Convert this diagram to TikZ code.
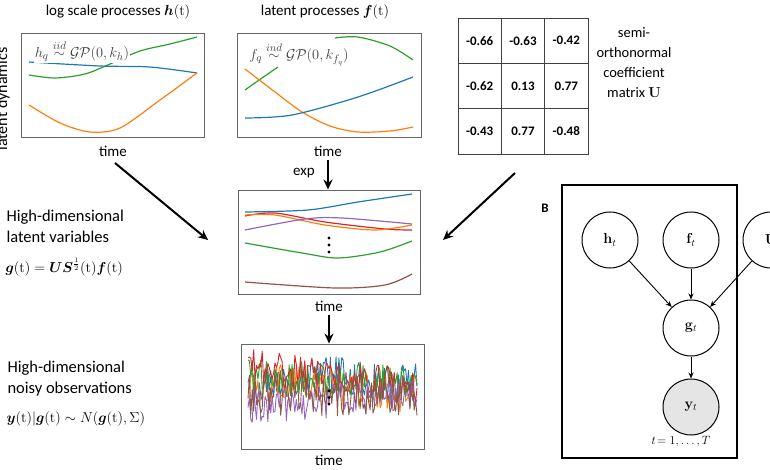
\documentclass[tikz,border=0pt]{standalone}
\usepackage{amsmath}
\usepackage{bm}
\usepackage[no-math]{fontspec}
\setmainfont{Carlito}
\usetikzlibrary{arrows.meta,positioning}
\definecolor{tabblue}{RGB}{31,119,180}
\definecolor{taborange}{RGB}{255,127,14}
\definecolor{tabgreen}{RGB}{44,160,44}
\definecolor{tabred}{RGB}{214,39,40}
\definecolor{tabpurple}{RGB}{148,103,189}
\definecolor{tabbrown}{RGB}{140,86,75}

\begin{document}
\begin{tikzpicture}[x=1pt,y=-1pt,
	panel/.style={draw=black!60, line width=0.9pt, inner sep=0pt},
	title/.style={font=\fontsize{15}{18}\selectfont},
	side/.style={font=\fontsize{16.5}{21}\selectfont, align=left, anchor=west},
	formula/.style={font=\fontsize{14.5}{17}\selectfont, anchor=west},
	gplabel/.style={fill=white, text=black!75, inner sep=1pt, font=\fontsize{15}{17}\selectfont},
	bigarrow/.style={-{Stealth[length=10pt,width=9pt]}, line width=2pt},
	cell/.style={draw=black!75, line width=0.8pt, minimum width=43.3, minimum height=45.3, font=\fontsize{13}{15}\selectfont\bfseries},
	var/.style={circle, draw, line width=1pt, minimum size=56, font=\fontsize{14}{16}\selectfont},
	edge/.style={-{Stealth[length=6pt,width=5pt]}, line width=0.9pt},
	curve/.style={line width=1.2pt},
	noisy/.style={line width=0.9pt, line join=round}]

	\path[use as bounding box, clip] (0,0) rectangle (770,470);

	% panels
	\node (dynlabel) [font=\fontsize{16}{18}\selectfont, rotate=90, anchor=base] at (7,99) {latent dynamics};
	\node (htitle) [title] at (118,12) {log scale processes $\bm{h}(\mathrm{t})$};
	\node (ftitle) [title] at (325,12) {latent processes $\bm{f}(\mathrm{t})$};
	\node (hbox) [panel, minimum width=183, minimum height=104] at (112.5,85) {};
	\node (fbox) [panel, minimum width=184, minimum height=104] at (329,85) {};
	\node (gbox) [panel, minimum width=182, minimum height=104] at (329,242) {};
	\node (ybox) [panel, minimum width=183, minimum height=105] at (332.5,396.5) {};
	\node (htime) [title] at (113,151) {time};
	\node (ftime) [title] at (328,151) {time};
	\node (gtime) [title] at (329,306) {time};
	\node (ytime) [title] at (329,460) {time};
	\node (explabel) [title] at (304,173) {exp};

	% h(t)
	\draw [curve, tabgreen] plot[smooth] coordinates {(29,75) (55,78) (85,74) (110,64) (140,51) (170,44) (197,37)};
	\draw [curve, tabblue] plot[smooth] coordinates {(29,62) (100,66) (150,67) (197,73)};
	\draw [curve, taborange] plot[smooth] coordinates {(29,105) (60,123) (90,132) (120,128) (160,100) (197,73)};
	\node (hlabel) [gplabel] at (82,51) {$h_q \overset{iid}{\sim} \mathcal{GP}(0,k_h)$};

	% f(t)
	\draw [curve, tabgreen] plot[smooth] coordinates {(245,90) (262,78) (278,67)};
	\draw [curve, tabgreen] plot[smooth] coordinates {(335,38) (358,37) (390,46) (413,60)};
	\draw [curve, taborange] plot[smooth] coordinates {(245,69) (275,92) (302,112) (330,126) (358,132) (390,131) (413,127)};
	\draw [curve, tabblue] plot[smooth] coordinates {(245,118) (292,115) (358,97) (413,77)};
	\node (flabel) [gplabel] at (299,54) {$f_q \overset{ind}{\sim} \mathcal{GP}(0,k_{f_q})$};

	% g(t)
	\draw [curve, tabblue] plot[smooth] coordinates {(245,212) (308,210) (358,202) (412,194)};
	\draw [curve, tabred] plot[smooth] coordinates {(245,216) (275,213) (325,222) (385,229) (412,230)};
	\draw [curve, taborange] plot[smooth] coordinates {(245,215) (275,215) (325,225) (375,230) (412,225)};
	\draw [curve, tabpurple] plot[smooth] coordinates {(245,230) (305,219) (342,218) (412,224)};
	\draw [curve, tabgreen] plot[smooth] coordinates {(245,243) (302,253) (338,258) (380,252) (412,241)};
	\draw [curve, tabbrown] plot[smooth] coordinates {(245,282) (335,288) (385,285) (412,274)};
	\fill (329,238) circle (1.7) (329,245) circle (1.7) (329,252) circle (1.7);

	% y(t)
	\pgfmathsetseed{11}
	\draw [noisy, tabblue] plot[domain=248:417, samples=120] (\x, {380 + 5*sin(3*\x) + 19*rand});
	\draw [noisy, taborange] plot[domain=248:417, samples=120] (\x, {388 + 6*sin(2*\x+40) + 19*rand});
	\draw [noisy, tabgreen] plot[domain=248:417, samples=120] (\x, {377 + 0.03*(\x-248) + 18*rand});
	\draw [noisy, tabred] plot[domain=248:417, samples=120] (\x, {367 + 0.12*(\x-248) + 18*rand});
	\draw [noisy, tabpurple] plot[domain=248:417, samples=120] (\x, {408 - 0.1*(\x-248) + 18*rand});
	\draw [noisy, tabbrown] plot[domain=248:417, samples=120] (\x, {394 + 22*rand});
	\fill (329,391) circle (1.7) (329,397.5) circle (1.7) (329,404) circle (1.7);

	% matrix U
	\node (m1) [cell] at (479.7,40.7) {-0.66};
	\node (m2) [cell] at (523,40.7) {-0.63};
	\node (m3) [cell] at (566.3,40.7) {-0.42};
	\node (m4) [cell] at (479.7,86) {-0.62};
	\node (m5) [cell] at (523,86) {0.13};
	\node (m6) [cell] at (566.3,86) {0.77};
	\node (m7) [cell] at (479.7,131.3) {-0.43};
	\node (m8) [cell] at (523,131.3) {0.77};
	\node (m9) [cell] at (566.3,131.3) {-0.48};
	\node (ulabel) [align=center, font=\fontsize{14.5}{20}\selectfont] at (634,63) {semi-\\orthonormal\\coefficient\\matrix $\mathbf{U}$};

	% left texts
	\node (glabel) [side] at (3,226) {High-dimensional\\latent variables};
	\node (gformula) [formula] at (2,267) {$\bm{g}(\mathrm{t}) = \bm{U}\bm{S}^{\frac{1}{2}}(\mathrm{t})\bm{f}(\mathrm{t})$};
	\node (ylabel) [side] at (4,379) {High-dimensional\\noisy observations};
	\node (yformula) [formula, font=\fontsize{13.8}{16}\selectfont] at (3,419) {$\bm{y}(\mathrm{t})|\bm{g}(\mathrm{t}) \sim N(\bm{g}(\mathrm{t}),\Sigma)$};

	% arrows
	\coordinate (hfrom) at (115,163);
	\coordinate (gfromh) at (208,240);
	\coordinate (ufrom) at (515,173);
	\coordinate (gfromu) at (443,240);
	\draw [bigarrow] (hfrom) -- (gfromh);
	\draw [bigarrow] (ufrom) -- (gfromu);
	\draw [bigarrow] (ftime.south) -- (ftime.south |- gbox.north);
	\draw [bigarrow] (gtime.south) -- (gtime.south |- ybox.north);

	% B: graphical model
	\node (blabel) [font=\bfseries\fontsize{13}{15}\selectfont] at (545,208) {B};
	\node (plate) [draw, line width=1.2pt, minimum width=175, minimum height=273] at (649.5,321.5) {};
	\node (h) [var] at (610,240) {$\mathbf{h}_t$};
	\node (f) [var] at (691,240) {$\mathbf{f}_t$};
	\node (U) [var] at (771,240) {$\mathbf{U}$};
	\node (g) [var] at (691,328) {$\mathbf{g}_t$};
	\node (y) [var, fill=black!10] at (691,407) {$\mathbf{y}_t$};
	\node (tlabel) [font=\fontsize{13}{15}\selectfont] at (681,442) {$t\!=1,\dots,T$};
	\draw [edge] (h) -- (g);
	\draw [edge] (f) -- (g);
	\draw [edge] (U) -- (g);
	\draw [edge] (g) -- (y);

\end{tikzpicture}
\end{document}
